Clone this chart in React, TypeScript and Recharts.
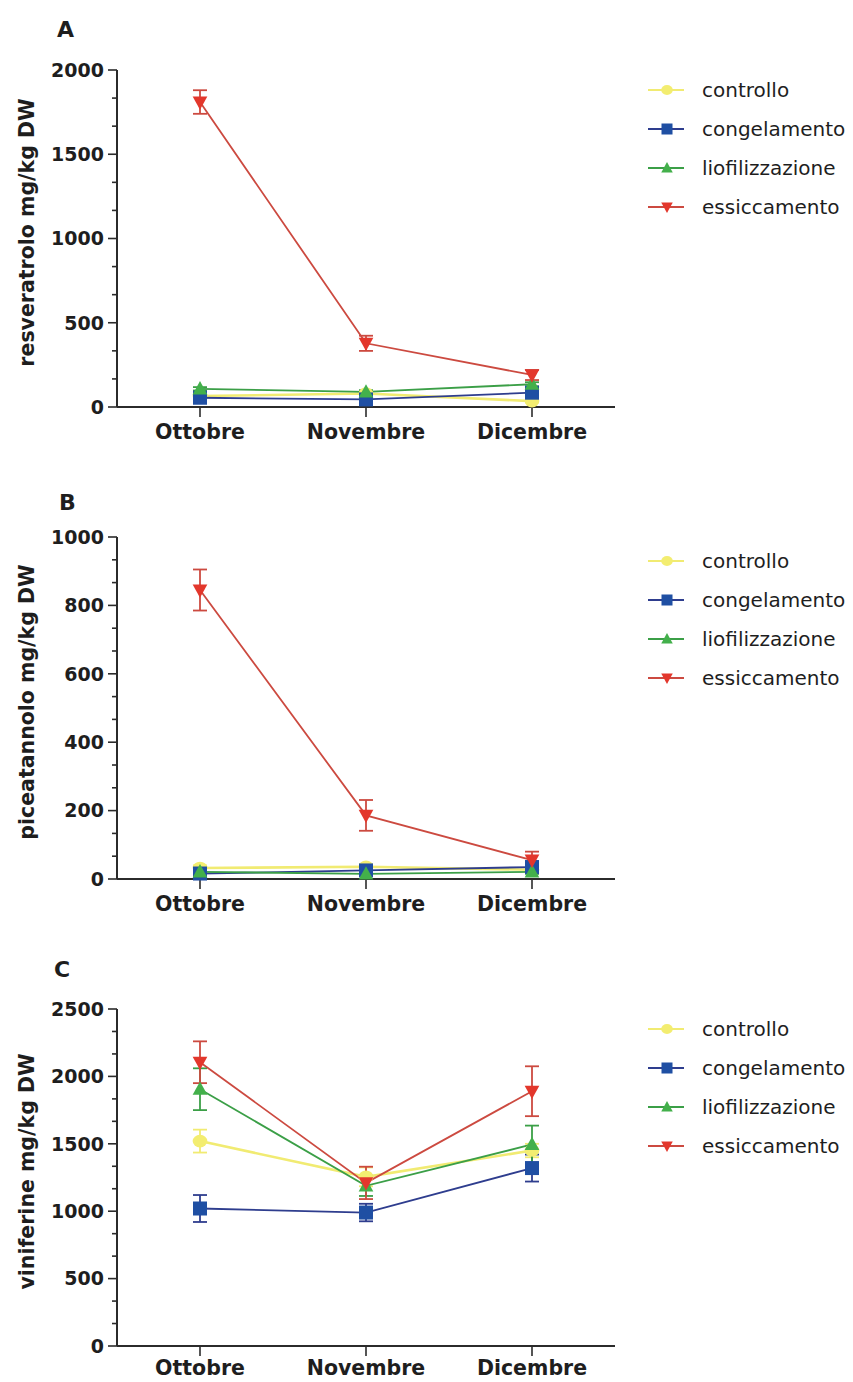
import React from 'react';
import { LineChart, Line, XAxis, YAxis, ErrorBar, Legend, Label } from 'recharts';

// ---------- data ----------
const categories = ['Ottobre', 'Novembre', 'Dicembre'];
const seriesNames = ['controllo', 'congelamento', 'liofilizzazione', 'essiccamento'];

// Panel A – resveratrolo (mg/kg DW)
const resControllo = [65, 80, 35];
const resControlloErr = [8, 8, 8];
const resCongelamento = [55, 45, 85];
const resCongelamentoErr = [10, 10, 15];
const resLiofilizzazione = [108, 90, 135];
const resLiofilizzazioneErr = [10, 10, 12];
const resEssiccamento = [1810, 378, 190];
const resEssiccamentoErr = [70, 45, 30];

// Panel B – piceatannolo (mg/kg DW)
const picControllo = [32, 36, 27];
const picControlloErr = [8, 8, 6];
const picCongelamento = [16, 25, 35];
const picCongelamentoErr = [6, 6, 8];
const picLiofilizzazione = [21, 15, 21];
const picLiofilizzazioneErr = [6, 6, 6];
const picEssiccamento = [845, 186, 55];
const picEssiccamentoErr = [60, 45, 25];

// Panel C – viniferine (mg/kg DW)
const vinControllo = [1520, 1255, 1450];
const vinControlloErr = [85, 70, 50];
const vinCongelamento = [1020, 990, 1320];
const vinCongelamentoErr = [100, 65, 100];
const vinLiofilizzazione = [1905, 1188, 1495];
const vinLiofilizzazioneErr = [155, 75, 140];
const vinEssiccamento = [2105, 1210, 1890];
const vinEssiccamentoErr = [155, 120, 185];

// axis ticks
const majorTicksA = [0, 500, 1000, 1500, 2000];
const allTicksA = [0, 166.7, 333.3, 500, 666.7, 833.3, 1000, 1166.7, 1333.3, 1500, 1666.7, 1833.3, 2000];
const majorTicksB = [0, 200, 400, 600, 800, 1000];
const allTicksB = [0, 66.7, 133.3, 200, 266.7, 333.3, 400, 466.7, 533.3, 600, 666.7, 733.3, 800, 866.7, 933.3, 1000];
const majorTicksC = [0, 500, 1000, 1500, 2000, 2500];
const allTicksC = [0, 166.7, 333.3, 500, 666.7, 833.3, 1000, 1166.7, 1333.3, 1500, 1666.7, 1833.3, 2000, 2166.7, 2333.3, 2500];

// ---------- styling ----------
const FONT = '"DejaVu Sans", "Liberation Sans", Arial, sans-serif';
const AXIS = '#2b2b2b';
const TEXT = '#1e1e1e';

const styles: Record<string, { stroke: string; fill: string; shape: string; width: number }> = {
  controllo: { stroke: '#f1eb72', fill: '#f3ed70', shape: 'circle', width: 2.6 },
  congelamento: { stroke: '#2e3d8e', fill: '#1f4fa3', shape: 'square', width: 1.8 },
  liofilizzazione: { stroke: '#3b9f47', fill: '#43b04b', shape: 'up', width: 1.8 },
  essiccamento: { stroke: '#cc4a40', fill: '#e3372c', shape: 'down', width: 1.8 },
};

function buildRows(vals: number[][], errs: number[][]) {
  return categories.map((m, i) => {
    const row: Record<string, any> = { month: m };
    seriesNames.forEach((s, k) => {
      row[s] = vals[k][i];
      row[s + 'Err'] = errs[k][i];
    });
    return row;
  });
}

const dataA = buildRows(
  [resControllo, resCongelamento, resLiofilizzazione, resEssiccamento],
  [resControlloErr, resCongelamentoErr, resLiofilizzazioneErr, resEssiccamentoErr]
);
const dataB = buildRows(
  [picControllo, picCongelamento, picLiofilizzazione, picEssiccamento],
  [picControlloErr, picCongelamentoErr, picLiofilizzazioneErr, picEssiccamentoErr]
);
const dataC = buildRows(
  [vinControllo, vinCongelamento, vinLiofilizzazione, vinEssiccamento],
  [vinControlloErr, vinCongelamentoErr, vinLiofilizzazioneErr, vinEssiccamentoErr]
);

function Marker({ shape, cx, cy, fill, r }: { shape: string; cx: number; cy: number; fill: string; r: number }) {
  if (cx == null || cy == null || isNaN(cx) || isNaN(cy)) return null;
  if (shape === 'circle') return <ellipse cx={cx} cy={cy} rx={r * 1.05} ry={r * 0.9} fill={fill} />;
  if (shape === 'square') return <rect x={cx - r} y={cy - r} width={2 * r} height={2 * r} fill={fill} />;
  if (shape === 'up')
    return <polygon points={`${cx},${cy - r * 1.1} ${cx + r * 1.05},${cy + r * 0.8} ${cx - r * 1.05},${cy + r * 0.8}`} fill={fill} />;
  return <polygon points={`${cx - r * 1.05},${cy - r * 0.8} ${cx + r * 1.05},${cy - r * 0.8} ${cx},${cy + r * 1.1}`} fill={fill} />;
}

const makeYTick = (majors: number[]) => (props: any) => {
  const { x, y, payload } = props;
  const isMajor = majors.indexOf(payload.value) >= 0;
  return (
    <g>
      <line x1={x} x2={x - (isMajor ? 9 : 5)} y1={y} y2={y} stroke={AXIS} strokeWidth={1.6} />
      {isMajor && (
        <text x={x - 13} y={y} dy="0.36em" textAnchor="end" fontFamily={FONT} fontWeight="bold" fontSize={19} fill={TEXT}>
          {payload.value}
        </text>
      )}
    </g>
  );
};

const makeYLabel = (text: string) => (props: any) => {
  const vb = props.viewBox || { x: 0, y: 0, width: 0, height: 0 };
  const cx = vb.x + 27;
  const cy = vb.y + vb.height / 2 - 6;
  return (
    <text
      x={cx}
      y={cy}
      transform={`rotate(-90 ${cx} ${cy})`}
      textAnchor="middle"
      dominantBaseline="central"
      fontFamily={FONT}
      fontWeight="bold"
      fontSize={20.5}
      fill={TEXT}
    >
      {text}
    </text>
  );
};

function LegendContent() {
  return (
    <div style={{ display: 'flex', flexDirection: 'column' }}>
      {seriesNames.map((name) => {
        const st = styles[name];
        return (
          <div key={name} style={{ display: 'flex', alignItems: 'center', height: 39 }}>
            <svg width={40} height={20} style={{ display: 'block' }}>
              <line x1={2} x2={38} y1={10} y2={10} stroke={st.stroke} strokeWidth={2.2} />
              <Marker shape={st.shape} cx={21} cy={10} fill={st.fill} r={5.5} />
            </svg>
            <span style={{ marginLeft: 16, fontFamily: FONT, fontSize: 20, color: TEXT, lineHeight: '20px' }}>{name}</span>
          </div>
        );
      })}
    </div>
  );
}

type PanelProps = {
  data: any[];
  top: number;
  height: number;
  marginTop: number;
  marginBottom: number;
  xAxisHeight: number;
  tickMargin: number;
  yMax: number;
  ticks: number[];
  majors: number[];
  yLabel: string;
  legendTop: number;
};

function Panel({ data, top, height, marginTop, marginBottom, xAxisHeight, tickMargin, yMax, ticks, majors, yLabel, legendTop }: PanelProps) {
  return (
    <div style={{ position: 'absolute', left: 0, top, width: 853, height }}>
      <LineChart
        width={853}
        height={height}
        data={data}
        margin={{ top: marginTop, right: 238, bottom: marginBottom, left: 0 }}
      >
        <XAxis
          dataKey="month"
          padding={{ left: 83, right: 83 }}
          height={xAxisHeight}
          interval={0}
          tickSize={10}
          tickMargin={tickMargin}
          axisLine={{ stroke: AXIS, strokeWidth: 2 }}
          tickLine={{ stroke: AXIS, strokeWidth: 1.6 }}
          tick={{ fontFamily: FONT, fontWeight: 'bold', fontSize: 20.5, fill: TEXT }}
        />
        <YAxis
          width={117}
          domain={[0, yMax]}
          ticks={ticks}
          interval={0}
          tickSize={0}
          tickMargin={0}
          tickLine={false}
          axisLine={{ stroke: AXIS, strokeWidth: 2 }}
          tick={makeYTick(majors)}
        >
          <Label content={makeYLabel(yLabel)} />
        </YAxis>
        {seriesNames.map((name) => {
          const st = styles[name];
          return (
            <Line
              key={name}
              type="linear"
              dataKey={name}
              name={name}
              stroke={st.stroke}
              strokeWidth={st.width}
              isAnimationActive={false}
              activeDot={false}
              dot={(p: any) => (
                <Marker key={`${name}-${p.index}`} shape={st.shape} cx={p.cx} cy={p.cy} fill={st.fill} r={7} />
              )}
            >
              <ErrorBar dataKey={name + 'Err'} width={7} stroke={st.stroke} strokeWidth={1.8} direction="y" />
            </Line>
          );
        })}
        <Legend
          layout="vertical"
          align="center"
          verticalAlign="middle"
          wrapperStyle={{ left: 646, top: legendTop, width: 207 }}
          content={() => <LegendContent />}
        />
      </LineChart>
    </div>
  );
}

export default function App() {
  return (
    <div style={{ position: 'absolute', left: 0, top: 0, width: 853, height: 1382, background: '#fff', overflow: 'hidden' }}>
      <Panel
        data={dataA}
        top={0}
        height={460}
        marginTop={70}
        marginBottom={13}
        xAxisHeight={40}
        tickMargin={7}
        yMax={2000}
        ticks={allTicksA}
        majors={majorTicksA}
        yLabel="resveratrolo mg/kg DW"
        legendTop={70}
      />
      <Panel
        data={dataB}
        top={465}
        height={460}
        marginTop={72}
        marginBottom={6}
        xAxisHeight={40}
        tickMargin={7}
        yMax={1000}
        ticks={allTicksB}
        majors={majorTicksB}
        yLabel="piceatannolo mg/kg DW"
        legendTop={76}
      />
      <Panel
        data={dataC}
        top={930}
        height={452}
        marginTop={79}
        marginBottom={0}
        xAxisHeight={36}
        tickMargin={4}
        yMax={2500}
        ticks={allTicksC}
        majors={majorTicksC}
        yLabel="viniferine mg/kg DW"
        legendTop={79}
      />
      <svg width={853} height={1382} style={{ position: 'absolute', left: 0, top: 0, pointerEvents: 'none' }}>
        <text x={57} y={37} fontFamily={FONT} fontWeight="bold" fontSize={22} fill={TEXT}>A</text>
        <text x={59} y={510} fontFamily={FONT} fontWeight="bold" fontSize={22} fill={TEXT}>B</text>
        <text x={54} y={977} fontFamily={FONT} fontWeight="bold" fontSize={22} fill={TEXT}>C</text>
      </svg>
    </div>
  );
}
